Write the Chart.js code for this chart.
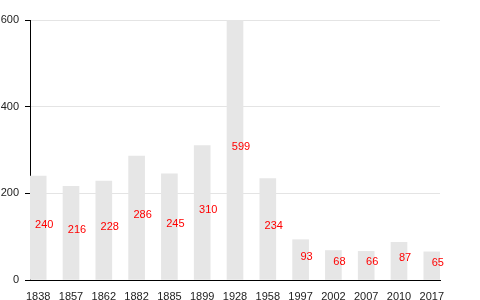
<!DOCTYPE html>
<html>
<head>
<meta charset="utf-8">
<script src="https://cdn.jsdelivr.net/npm/chart.js@4"></script>
<style>
  html, body { margin: 0; padding: 0; background: #fff; }
</style>
</head>
<body>
<canvas id="popChart" width="480" height="300"></canvas>
<script>
// data
const years = ['1838', '1857', '1862', '1882', '1885', '1899', '1928', '1958', '1997', '2002', '2007', '2010', '2017'];
const population = [240, 216, 228, 286, 245, 310, 599, 234, 93, 68, 66, 87, 65];
const yTicks = [0, 200, 400, 600];

// bar value labels, drawn in the middle of each bar
const valueLabels = {
  id: 'valueLabels',
  afterDatasetsDraw(chart) {
    const ctx = chart.ctx;
    const meta = chart.getDatasetMeta(0);
    ctx.save();
    ctx.font = '11px "Liberation Sans", Arial, sans-serif';
    ctx.fillStyle = '#ff0000';
    ctx.textAlign = 'center';
    ctx.textBaseline = 'middle';
    meta.data.forEach((bar, i) => {
      const mid = (bar.y + bar.base) / 2;
      ctx.fillText(String(population[i]), bar.x + 6, mid - 3);
    });
    ctx.restore();
  }
};

const ctx = document.getElementById('popChart').getContext('2d');
new Chart(ctx, {
  type: 'bar',
  data: {
    datasets: [{
      data: population.map((v, i) => ({ x: i, y: v })),
      backgroundColor: '#e6e6e6',
      borderWidth: 0,
      barThickness: 16
    }]
  },
  options: {
    responsive: false,
    animation: false,
    devicePixelRatio: 1,
    layout: { padding: { top: 20, right: 40, left: 0, bottom: 0 } },
    plugins: {
      legend: { display: false },
      tooltip: { enabled: false }
    },
    scales: {
      x: {
        type: 'linear',
        offset: false,
        min: -0.25,
        max: years.length - 0.75,
        afterBuildTicks: (axis) => { axis.ticks = years.map((y, i) => ({ value: i })); },
        afterFit: (axis) => { axis.height = 20; },
        grid: { display: false },
        border: { display: true, color: '#000', width: 1 },
        ticks: {
          color: '#222',
          font: { family: '"Liberation Sans", Arial, sans-serif', size: 11 },
          padding: 2,
          maxRotation: 0,
          autoSkip: false,
          callback: (v) => years[v]
        }
      },
      y: {
        min: 0,
        max: 600,
        afterBuildTicks: (axis) => { axis.ticks = yTicks.map(v => ({ value: v })); },
        afterFit: (axis) => { axis.width = 30; },
        grid: { color: '#e4e4e4', tickColor: '#000', tickLength: 5 },
        border: { display: true, color: '#000', width: 1 },
        ticks: {
          color: '#222',
          font: { family: '"Liberation Sans", Arial, sans-serif', size: 11 },
          padding: 6
        }
      }
    }
  },
  plugins: [valueLabels]
});
</script>
</body>
</html>
